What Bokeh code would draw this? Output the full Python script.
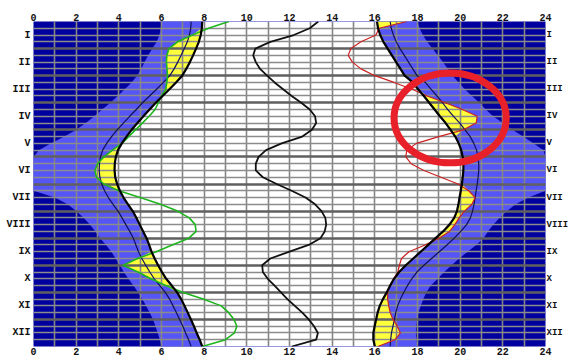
import numpy as np
from bokeh.plotting import figure
from bokeh.models import Range1d, LinearAxis, FixedTicker, Grid
from bokeh.embed import file_html
from bokeh.resources import INLINE

# ---------------- data ----------------
MONTH_LABELS = ["I", "II", "III", "IV", "V", "VI", "VII", "VIII", "IX", "X", "XI", "XII"]
MONTH_CENTERS = [0.5, 1.5, 2.5, 3.5, 4.5, 5.5, 6.5, 7.5, 8.5, 9.5, 10.5, 11.5]
HOUR_TICKS = [0, 2, 4, 6, 8, 10, 12, 14, 16, 18, 20, 22, 24]

# position in the year (months from 1 January), sampled at each quarter month
M = [0, 0.25, 0.5, 0.75, 1, 1.25, 1.5, 1.75, 2, 2.25, 2.5, 2.75, 3, 3.25, 3.5, 3.75,
     4, 4.25, 4.5, 4.75, 5, 5.25, 5.5, 5.75, 6, 6.25, 6.5, 6.75, 7, 7.25, 7.5, 7.75,
     8, 8.25, 8.5, 8.75, 9, 9.25, 9.5, 9.75, 10, 10.25, 10.5, 10.75, 11, 11.25, 11.5,
     11.75, 12]

# end of night (morning) / start of night (evening), hours
ASTRO_L = [6.00, 5.97, 5.90, 5.78, 5.57, 5.38, 5.20, 5.05, 4.85, 4.60, 4.28, 3.95, 3.60,
           3.22, 2.85, 2.45, 2.00, 1.45, 0.80, 0.25, 0, 0, 0, 0, 0, 0, 1.00, 1.60, 2.00,
           2.35, 2.65, 2.90, 3.12, 3.40, 3.65, 3.85, 4.05, 4.23, 4.45, 4.68, 4.90, 5.10,
           5.28, 5.45, 5.60, 5.72, 5.82, 5.92, 6.00]
ASTRO_R = [18.00, 18.10, 18.25, 18.45, 18.70, 18.95, 19.20, 19.42, 19.65, 19.92, 20.22,
           20.55, 20.90, 21.20, 21.55, 22.00, 22.45, 22.95, 23.45, 23.90, 24, 24, 24, 24,
           24, 24, 23.20, 22.60, 22.20, 21.85, 21.55, 21.30, 21.10, 20.75, 20.35, 19.95,
           19.60, 19.25, 18.95, 18.62, 18.42, 18.27, 18.15, 18.05, 17.98, 17.94, 17.92,
           17.95, 18.00]
# twilight lines
CIVIL_L = [7.39, 7.37, 7.31, 7.21, 7.07, 6.92, 6.76, 6.59, 6.39, 6.09, 5.77, 5.44, 5.11,
           4.82, 4.51, 4.21, 3.92, 3.66, 3.43, 3.24, 3.14, 3.09, 3.08, 3.11, 3.20, 3.33,
           3.51, 3.73, 3.96, 4.15, 4.33, 4.51, 4.68, 4.80, 4.92, 5.08, 5.26, 5.45, 5.66,
           5.92, 6.18, 6.38, 6.54, 6.70, 6.85, 7.00, 7.13, 7.27, 7.39]
CIVIL_R = [16.72, 16.77, 16.87, 17.00, 17.18, 17.38, 17.58, 17.78, 17.98, 18.37, 18.63,
           18.91, 19.17, 19.42, 19.69, 19.98, 20.23, 20.47, 20.64, 20.77, 20.84, 20.87,
           20.87, 20.84, 20.80, 20.75, 20.70, 20.65, 20.58, 20.48, 20.30, 20.03, 19.72,
           19.38, 19.02, 18.66, 18.30, 17.97, 17.73, 17.53, 17.36, 17.20, 17.07, 16.98,
           16.92, 16.85, 16.78, 16.74, 16.72]
# sunrise / sunset
RISE = [7.91, 7.89, 7.84, 7.75, 7.62, 7.48, 7.33, 7.16, 6.97, 6.68, 6.37, 6.05, 5.73,
        5.44, 5.15, 4.87, 4.60, 4.36, 4.14, 3.96, 3.86, 3.81, 3.80, 3.83, 3.92, 4.05,
        4.22, 4.43, 4.65, 4.82, 4.98, 5.14, 5.30, 5.42, 5.53, 5.68, 5.84, 6.02, 6.22,
        6.48, 6.73, 6.92, 7.08, 7.23, 7.38, 7.52, 7.65, 7.79, 7.91]
SET = [16.10, 16.15, 16.25, 16.40, 16.60, 16.80, 17.00, 17.20, 17.40, 17.78, 18.03,
       18.30, 18.55, 18.80, 19.05, 19.32, 19.55, 19.77, 19.93, 20.05, 20.12, 20.15,
       20.15, 20.12, 20.08, 20.03, 19.97, 19.92, 19.85, 19.72, 19.50, 19.20, 18.85,
       18.50, 18.15, 17.80, 17.45, 17.14, 16.90, 16.72, 16.56, 16.38, 16.23, 16.13,
       16.06, 15.99, 15.93, 15.93, 16.00]
# black wavy curve
WAVE = [13.35, 12.95, 12.2, 11.1, 10.4, 10.3, 10.42, 10.62, 10.95, 11.3, 11.7, 12.1,
        12.55, 12.95, 13.2, 13.25, 13.05, 12.6, 11.63, 10.9, 10.55, 10.42, 10.42, 10.75,
        11.4, 12.1, 12.75, 13.2, 13.5, 13.68, 13.72, 13.65, 13.45, 12.9, 12.0, 11.1,
        10.72, 10.75, 10.98, 11.3, 11.6, 11.9, 12.25, 12.6, 12.9, 13.15, 13.33, 13.25,
        12.1]
# green (morning) and red (evening) curves
GREEN = [9.16, 8.2, 7.45, 6.75, 6.35, 6.25, 6.23, 6.26, 6.28, 6.25, 6.2, 6.0, 5.85,
         5.7, 5.42, 5.1, 4.78, 4.46, 4.15, 3.7, 3.3, 3.0, 2.88, 2.95, 3.3, 4.0, 5.0,
         5.95, 6.75, 7.3, 7.58, 7.62, 7.28, 6.5, 5.75, 4.88, 4.2, 4.9, 5.5, 6.2, 6.98,
         7.95, 8.8, 9.15, 9.4, 9.53, 9.42, 9.0, 7.91]
RED = [17.5, 16.2, 16.05, 15.35, 14.88, 14.75, 14.95, 15.35, 16.0, 16.9, 17.75, 18.45,
       19.3, 20.1, 20.8, 20.75, 20.15, 19.0, 17.95, 17.5, 17.45, 17.7, 18.3, 19.1,
       19.9, 20.4, 20.7, 20.55, 20.2, 19.95, 19.75, 19.5, 19.0, 18.35, 17.6, 17.25,
       17.15, 17.08, 16.88, 16.7, 16.6, 16.6, 16.65, 16.72, 16.85, 17.05, 17.2, 16.95,
       16.14]

# highlighted area (red ring)
RING_X, RING_Y, RING_W, RING_H = 19.53, 3.56, 5.26, 3.32

NAVY = "#00009E"
BLUE = "#5656F6"
YELLOW = "#FFFF3C"
FONT = "Liberation Mono"

# ---------------- figure ----------------
p = figure(width=571, height=358, x_range=Range1d(0, 24), y_range=Range1d(12, 0),
           output_backend="svg", toolbar_location=None,
           background_fill_color=NAVY, border_fill_color="white",
           outline_line_color=None,
           min_border_left=33, min_border_right=23, min_border_top=21, min_border_bottom=12)

rise = np.array(RISE)
sset = np.array(SET)
green = np.array(GREEN)
red = np.array(RED)

fills = [
    p.harea(y=M, x1=ASTRO_L, x2=ASTRO_R, fill_color=BLUE),
    p.harea(y=M, x1=RISE, x2=SET, fill_color="white"),
    p.harea(y=M, x1=np.minimum(green, rise), x2=rise, fill_color=YELLOW),
    p.harea(y=M, x1=sset, x2=np.maximum(red, sset), fill_color=YELLOW),
]
for r in fills:
    r.level = "image"

# grids
p.grid.visible = False
p.add_layout(Grid(dimension=0, ticker=FixedTicker(ticks=list(range(25))),
                  grid_line_color="#858585", grid_line_width=1.6))
quarters = [v for v in M if v % 1 != 0]
p.add_layout(Grid(dimension=1, ticker=FixedTicker(ticks=quarters),
                  grid_line_color="#8c8c8c", grid_line_width=1.3))
p.add_layout(Grid(dimension=1, ticker=FixedTicker(ticks=list(range(13))),
                  grid_line_color="#606060", grid_line_width=2.4))

# curves
p.line(CIVIL_L, M, line_color="#10105a", line_width=1.2)
p.line(CIVIL_R, M, line_color="#10105a", line_width=1.2)
p.line(GREEN, M, line_color="#1fb51f", line_width=1.6)
p.line(RED, M, line_color="#cc2222", line_width=1.2)
p.line(RISE, M, line_color="black", line_width=2.2)
p.line(SET, M, line_color="black", line_width=2.2)
p.line(WAVE, M, line_color="#111111", line_width=1.8)

ring = p.ellipse(x=[RING_X], y=[RING_Y], width=RING_W, height=RING_H,
                 fill_color=None, line_color="#E8202A", line_width=7)
ring.level = "overlay"

# axes: hours top and bottom, months left and right
p.add_layout(LinearAxis(), "above")
p.add_layout(LinearAxis(), "right")
for ax in p.xaxis:
    ax.ticker = FixedTicker(ticks=HOUR_TICKS)
for ax in p.yaxis:
    ax.ticker = FixedTicker(ticks=MONTH_CENTERS)
    ax.major_label_overrides = {c: lab for c, lab in zip(MONTH_CENTERS, MONTH_LABELS)}
for ax in p.axis:
    ax.axis_line_color = None
    ax.major_tick_line_color = None
    ax.minor_tick_line_color = None
    ax.major_tick_in = 0
    ax.major_tick_out = 0
    ax.minor_tick_in = 0
    ax.minor_tick_out = 0
    ax.major_label_standoff = 1
    ax.major_label_text_font = FONT
    ax.major_label_text_font_style = "bold"
    ax.major_label_text_font_size = "10px"
    ax.major_label_text_color = "#111111"
p.yaxis[0].major_label_standoff = 3
p.yaxis[1].major_label_text_font_size = "9px"

open("out.html", "w").write(file_html(p, INLINE))
